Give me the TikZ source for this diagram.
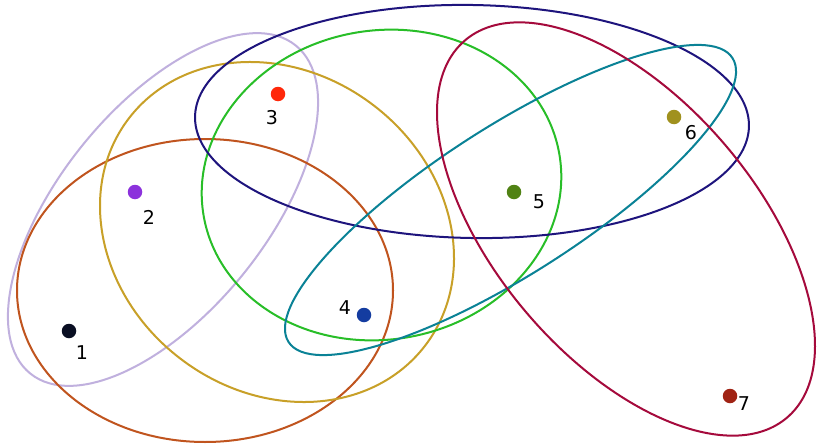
\documentclass[tikz,border=0pt]{standalone}
\usepackage{fontspec}
\setmainfont{DejaVu Sans}
\definecolor{cbrown}{RGB}{192,84,30}
\definecolor{cgold}{RGB}{200,160,40}
\definecolor{clav}{RGB}{192,176,222}
\definecolor{cgreen}{RGB}{40,190,40}
\definecolor{cnavy}{RGB}{30,20,125}
\definecolor{cteal}{RGB}{10,130,150}
\definecolor{ccrim}{RGB}{165,10,60}
\definecolor{d1}{RGB}{10,15,35}
\definecolor{d2}{RGB}{140,50,220}
\definecolor{d3}{RGB}{255,40,10}
\definecolor{d4}{RGB}{20,60,160}
\definecolor{d5}{RGB}{80,130,20}
\definecolor{d6}{RGB}{160,145,30}
\definecolor{d7}{RGB}{160,35,20}
\begin{document}
\begin{tikzpicture}[x=1pt,y=-1pt,
  ring/.style={line width=2pt},
  dot/.style={circle,inner sep=0pt,minimum size=14.5pt,fill=#1},
  lab/.style={font=\fontsize{19}{19}\selectfont,inner sep=0pt,text=black}]
\useasboundingbox[fill=white] (0,0) rectangle (817,447);
% sets
\draw[ring,clav,rotate around={51:(163,209.5)}] (163,209.5) ellipse[x radius=211pt,y radius=103pt];
\draw[ring,cbrown] (205,290.5) ellipse[x radius=188pt,y radius=151.5pt];
\draw[ring,cgold,rotate around={-37.6:(277,232)}] (277,232) ellipse[x radius=186.7pt,y radius=159.3pt];
\draw[ring,cgreen,rotate around={10:(381.5,185)}] (381.5,185) ellipse[x radius=180.5pt,y radius=154.5pt];
\draw[ring,cnavy,rotate around={-1:(472,121.5)}] (472,121.5) ellipse[x radius=277pt,y radius=116.5pt];
\draw[ring,cteal,rotate around={32.6:(510.5,200)}] (510.5,200) ellipse[x radius=263.5pt,y radius=74pt];
\draw[ring,ccrim,rotate around={-49.5:(626,229)}] (626,229) ellipse[x radius=248pt,y radius=130pt];
% elements
\node[dot=d1] (p1) at (69,331) {};
\node[dot=d2] (p2) at (135,192) {};
\node[dot=d3] (p3) at (278,94) {};
\node[dot=d4] (p4) at (364,315) {};
\node[dot=d5] (p5) at (514,192) {};
\node[dot=d6] (p6) at (674,117) {};
\node[dot=d7] (p7) at (730,396) {};
\node[lab] (l1) at (82,353) {1};
\node[lab] (l2) at (149,217) {2};
\node[lab] (l3) at (272,118) {3};
\node[lab] (l4) at (345,308) {4};
\node[lab] (l5) at (539,202) {5};
\node[lab] (l6) at (691,133) {6};
\node[lab] (l7) at (744,404) {7};
\end{tikzpicture}
\end{document}
